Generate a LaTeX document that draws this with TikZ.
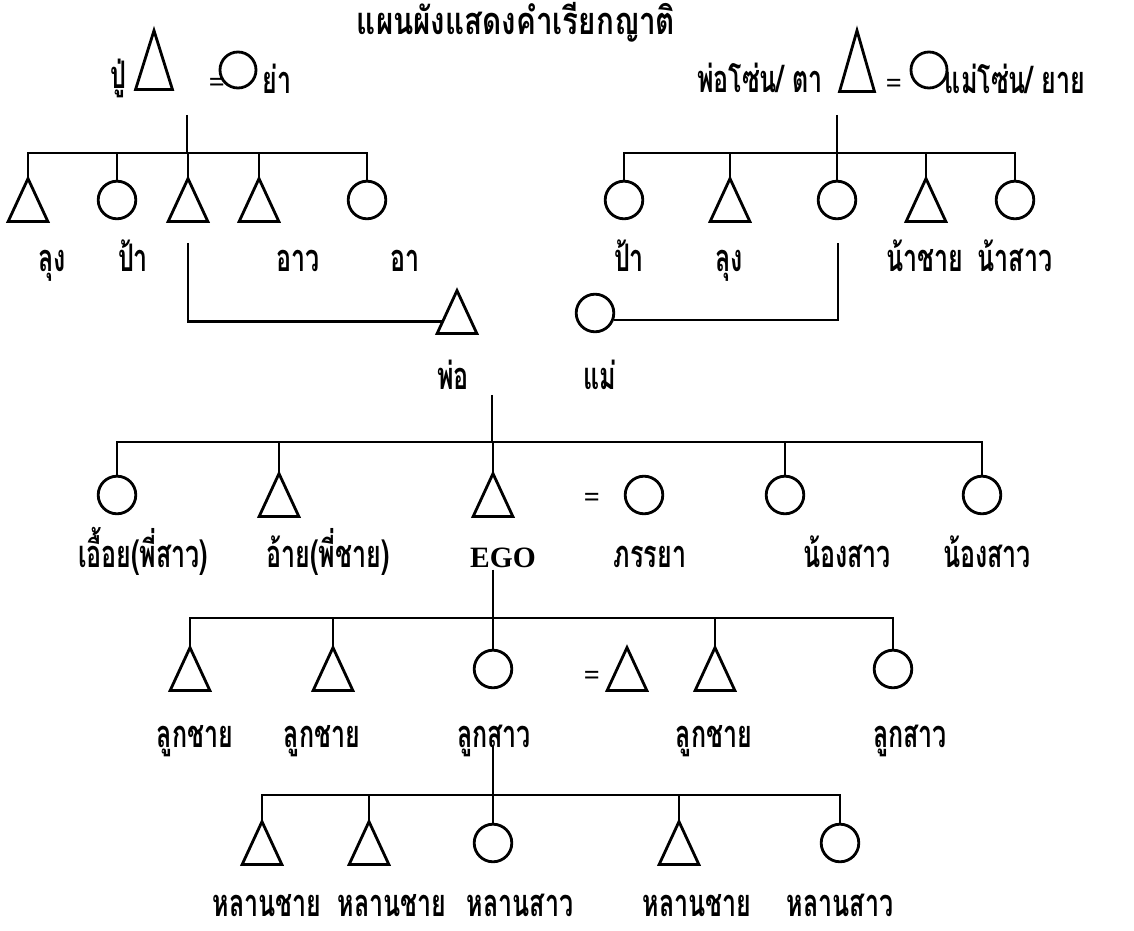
\documentclass[tikz,border=0pt]{standalone}
\usepackage{fontspec}
\setmainfont{Liberation Serif}
\newfontfamily\thaifont[Script=Thai, FakeStretch=0.66]{Loma}
\newfontfamily\titlefont[Script=Thai, FakeStretch=0.78]{Loma}
\usetikzlibrary{calc}

\tikzset{
  male/.style={inner sep=0pt, minimum width=0.92cm, minimum height=1cm,
    append after command={\pgfextra{\draw (\tikzlastnode.south west) -- (\tikzlastnode.north) -- (\tikzlastnode.south east) -- cycle;}}},
  female/.style={circle, draw, inner sep=0pt, minimum size=0.94cm},
  kin/.style={font=\thaifont\bfseries\fontsize{27}{30}\selectfont, inner sep=0pt, anchor=base},
  eq/.style={font=\bfseries\fontsize{20}{22}\selectfont, inner sep=0pt}
}

\begin{document}
\begin{tikzpicture}[x=0.025cm, y=-0.025cm, line width=2pt]
    \useasboundingbox (0,0) rectangle (1134,931);

    % Title
    \node[kin, font=\titlefont\bfseries\fontsize{27}{30}\selectfont] (title) at (516,35) {แผนผังแสดงคำเรียกญาติ};

    % Grandparents
    \node[male, minimum width=0.85cm, minimum height=1.4cm] (pgf) at (154,60) {};
    \node[eq] (pgeq) at (217,85) {=};
    \node[female, minimum size=0.9cm] (pgm) at (238,70) {};
    \node[kin] (pgfl) at (118,89) {ปู่};
    \node[kin] (pgml) at (277,94) {ย่า};

    \node[male, minimum width=0.8cm, minimum height=1.45cm] (mgf) at (857,61) {};
    \node[eq] (mgeq) at (894,86) {=};
    \node[female, minimum size=0.9cm] (mgm) at (929,70) {};
    \node[kin] (mgfl) at (760,93) {พ่อโซ่น/ ตา};
    \node[kin] (mgml) at (1015,94) {แม่โซ่น/ ยาย};

    % Father's siblings
    \node[male] (pa1) at (28,200) {};
    \node[female] (pa2) at (117,200) {};
    \node[male] (pa3) at (188,200) {};
    \node[male] (pa4) at (259,200) {};
    \node[female] (pa5) at (367,200) {};
    \node[kin] (pa1l) at (52,272) {ลุง};
    \node[kin] (pa2l) at (133,272) {ป้า};
    \node[kin] (pa4l) at (298,272) {อาว};
    \node[kin] (pa5l) at (405,272) {อา};

    \coordinate (pgline) at (187,115);
    \coordinate (pabar) at (187,153);
    \draw (pgline) -- (pabar);
    \foreach \n in {pa1,pa2,pa3,pa4,pa5}
        \draw (\n.north) |- (pabar);

    % Mother's siblings
    \node[female] (ma1) at (624,200) {};
    \node[male] (ma2) at (730,200) {};
    \node[female] (ma3) at (837,200) {};
    \node[male] (ma4) at (926,200) {};
    \node[female] (ma5) at (1015,200) {};
    \node[kin] (ma1l) at (629,272) {ป้า};
    \node[kin] (ma2l) at (729,272) {ลุง};
    \node[kin] (ma4l) at (925,272) {น้าชาย};
    \node[kin] (ma5l) at (1015,272) {น้าสาว};

    \coordinate (mgline) at (837,115);
    \coordinate (mabar) at (837,153);
    \draw (mgline) -- (mabar);
    \foreach \n in {ma1,ma2,ma3,ma4,ma5}
        \draw (\n.north) |- (mabar);

    % Parents
    \node[male] (father) at (457,312) {};
    \node[female] (mother) at (595,313) {};
    \node[kin] (fatherl) at (453,390) {พ่อ};
    \node[kin] (motherl) at (600,390) {แม่};

    \coordinate (fline) at (188,243);
    \coordinate (mline) at (838,243);
    \draw (fline) |- ($(father.south west)!0.27!(father.north)$);
    \draw (mother.-20) -| (mline);

    % EGO and siblings
    \node[female] (sb1) at (117,495) {};
    \node[male] (sb2) at (279,495) {};
    \node[male] (ego) at (493,495) {};
    \node[eq] (egoeq) at (592,500) {=};
    \node[female] (wife) at (644,495) {};
    \node[female] (sb4) at (785,495) {};
    \node[female] (sb5) at (982,495) {};
    \node[kin] (sb1l) at (143,568) {เอื้อย(พี่สาว)};
    \node[kin] (sb2l) at (328,568) {อ้าย(พี่ชาย)};
    \node[font=\bfseries\fontsize{21}{24}\selectfont, inner sep=0pt, anchor=base] (egol) at (503,568) {EGO};
    \node[kin] (wifel) at (650,568) {ภรรยา};
    \node[kin] (sb4l) at (847,568) {น้องสาว};
    \node[kin] (sb5l) at (987,568) {น้องสาว};

    \coordinate (pline) at (492,395);
    \coordinate (sbbar) at (492,442);
    \draw (pline) -- (sbbar);
    \foreach \n in {sb1,sb2,ego,sb4,sb5}
        \draw (\n.north) |- (sbbar);

    % Children
    \node[male] (ch1) at (190,669) {};
    \node[male] (ch2) at (333,669) {};
    \node[female] (ch3) at (493,669) {};
    \node[eq] (cheq) at (592,678) {=};
    \node[male] (husband) at (627,669) {};
    \node[male] (ch4) at (715,669) {};
    \node[female] (ch5) at (893,669) {};
    \node[kin] (ch1l) at (195,747) {ลูกชาย};
    \node[kin] (ch2l) at (322,747) {ลูกชาย};
    \node[kin] (ch3l) at (494,747) {ลูกสาว};
    \node[kin] (ch4l) at (714,747) {ลูกชาย};
    \node[kin] (ch5l) at (910,747) {ลูกสาว};

    \coordinate (chbar) at (493,618);
    \draw (chbar |- egol.south) -- (chbar);
    \foreach \n in {ch1,ch2,ch3,ch4,ch5}
        \draw (\n.north) |- (chbar);

    % Grandchildren
    \node[male] (gc1) at (262,843) {};
    \node[male] (gc2) at (369,843) {};
    \node[female] (gc3) at (493,843) {};
    \node[male] (gc4) at (679,843) {};
    \node[female] (gc5) at (840,843) {};
    \node[kin] (gc1l) at (267,916) {หลานชาย};
    \node[kin] (gc2l) at (392,916) {หลานชาย};
    \node[kin] (gc3l) at (520,916) {หลานสาว};
    \node[kin] (gc4l) at (697,916) {หลานชาย};
    \node[kin] (gc5l) at (840,916) {หลานสาว};

    \coordinate (dline) at (493,746);
    \coordinate (gcbar) at (493,795);
    \draw (dline) -- (gcbar);
    \foreach \n in {gc1,gc2,gc3,gc4,gc5}
        \draw (\n.north) |- (gcbar);
\end{tikzpicture}
\end{document}
